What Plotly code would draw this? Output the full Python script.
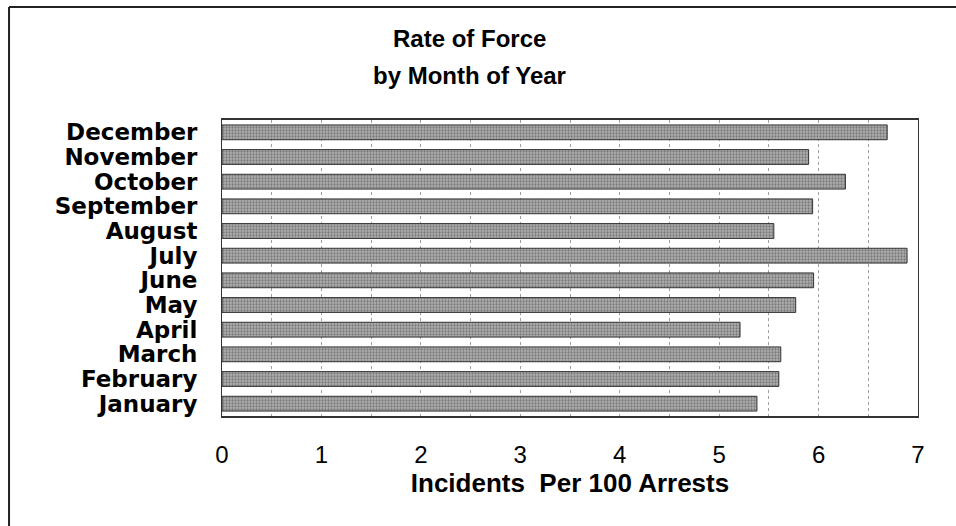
import plotly.graph_objects as go

months = ["January", "February", "March", "April", "May", "June",
          "July", "August", "September", "October", "November", "December"]
rate = [5.38, 5.60, 5.62, 5.21, 5.77, 5.95, 6.89, 5.55, 5.94, 6.27, 5.90, 6.69]
x_ticks = [0, 1, 2, 3, 4, 5, 6, 7]

fig = go.Figure()
fig.add_trace(go.Bar(
    x=rate,
    y=months,
    orientation='h',
    width=0.6,
    marker=dict(
        color='#b0b0b0',
        line=dict(color='#333333', width=1),
        pattern=dict(shape='.', fgcolor='#444444', size=3, solidity=0.45),
    ),
    showlegend=False
))

fig.update_layout(
    width=956, height=526,
    margin=dict(l=222, r=38, t=120, b=110),
    paper_bgcolor='white', plot_bgcolor='white',
    font=dict(family="Arial, Liberation Sans, sans-serif", color='black'),
    xaxis=dict(
        range=[0, 7], tickvals=x_ticks, ticktext=[str(t) for t in x_ticks],
        tickfont=dict(size=24),
        ticks='', ticklabelstandoff=16,
        showgrid=True, gridcolor='#a0a0a0', griddash='dot', gridwidth=1,
        minor=dict(dtick=0.5, showgrid=True, gridcolor='#a0a0a0', griddash='dot', gridwidth=1),
        showline=True, linecolor='#333333', linewidth=2, mirror=True,
        zeroline=False,
        title=dict(text="Incidents  Per 100 Arrests", standoff=4,
                   font=dict(size=26, weight='bold')),
    ),
    yaxis=dict(
        tickmode='array', tickvals=months, ticktext=months,
        tickfont=dict(size=23, family="DejaVu Sans, sans-serif", weight='bold'),
        ticks='', ticklabelstandoff=19,
        showgrid=False, showline=True, linecolor='#333333', linewidth=1, mirror=True,
        range=[-0.5, 11.5],
    ),
)

# two-line title
fig.add_annotation(text="Rate of Force", xref='paper', yref='paper', x=0.356, y=1.277,
                   showarrow=False, xanchor='center', yanchor='middle',
                   font=dict(size=24, weight='bold'))
fig.add_annotation(text="by Month of Year", xref='paper', yref='paper', x=0.356, y=1.152,
                   showarrow=False, xanchor='center', yanchor='middle',
                   font=dict(size=24, weight='bold'))

# outer frame of the scanned page
fig.add_shape(type='line', xref='paper', yref='paper', x0=-0.306, x1=-0.306, y0=-0.4, y1=1.382,
              line=dict(color='#222222', width=2))
fig.add_shape(type='line', xref='paper', yref='paper', x0=-0.306, x1=1.06, y0=1.382, y1=1.382,
              line=dict(color='#222222', width=2))

fig.write_html("out.html", config={'displayModeBar': False},
               post_script="document.body.style.margin='0';")
